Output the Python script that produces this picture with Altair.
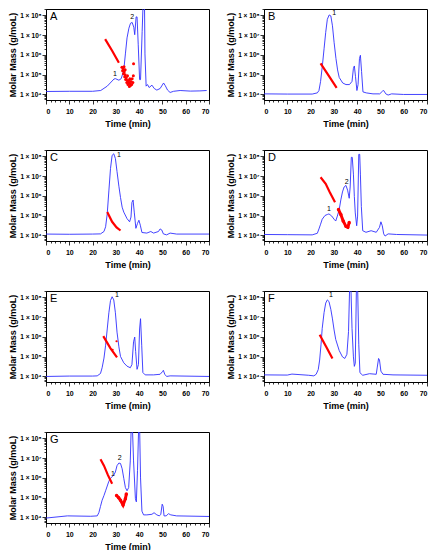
import altair as alt
import pandas as pd

# ---------------- data (times in min, values as log10 of the axis value) ----------------
A_t = [0, 10, 20, 23.5, 26.3, 29.2, 29.8, 31.3, 32.3, 33.4, 34.1, 34.8, 35.6, 36.3, 37.0, 37.7, 38.1, 38.7, 39.1, 39.6, 40.2, 40.6, 41.3, 41.7, 42.3, 42.5, 43.0, 43.6, 44.3, 45.5, 46.5, 47.6, 49.0, 50.5, 51.2, 52.2, 53.3, 54.8, 57.6, 62, 66.1, 69]
A_v = [4.15, 4.16, 4.16, 4.2, 4.42, 4.78, 4.8, 4.72, 4.8, 5.23, 6.05, 6.86, 7.35, 7.6, 7.64, 7.4, 7.02, 7.92, 7.92, 6.54, 4.75, 4.75, 7.19, 8.6, 8.6, 6.05, 4.42, 4.5, 4.35, 4.47, 4.3, 4.22, 4.3, 4.58, 4.45, 4.22, 4.1, 4.16, 4.2, 4.17, 4.18, 4.2]
A_red_t = [25.4, 28.4, 31.3]
A_red_v = [6.8, 6.21, 5.6]
A_odd_t = [32.6, 32.9, 33.1, 33.3, 33.6, 33.8, 34.0, 34.2, 34.5, 34.7, 35.0, 35.2, 35.5, 35.8, 36.0, 36.3, 36.5, 36.8, 37.0, 37.3, 37.5, 35.0, 34.0, 36.0, 33.5, 35.6, 37.6]
A_odd_v = [5.38, 5.2, 5.3, 5.05, 5.15, 4.9, 5.0, 4.75, 4.85, 4.6, 4.7, 4.5, 4.6, 4.4, 4.55, 4.45, 4.65, 4.5, 4.8, 4.6, 4.95, 4.95, 5.25, 4.8, 5.4, 4.7, 5.55]
A_lab = [("1", 29.6, 5.05), ("2", 37.0, 7.9)]

B_t = [0, 10, 20.7, 22.9, 23.6, 24.3, 25.1, 25.8, 26.5, 27.2, 28.0, 28.7, 29.4, 30.1, 30.9, 31.6, 32.3, 33.8, 35.2, 36.7, 37.8, 38.4, 38.8, 39.3, 39.9, 40.4, 41.0, 41.4, 41.9, 42.5, 43.9, 46.8, 49.7, 50.9, 51.4, 52.3, 53.3, 54.8, 59.9, 70]
B_v = [4.03, 4.02, 4.02, 4.08, 4.2, 4.66, 5.49, 6.31, 7.14, 7.8, 8.02, 7.97, 7.47, 6.64, 5.82, 5.24, 4.86, 4.58, 4.5, 4.5, 4.66, 5.32, 5.44, 4.9, 4.2, 4.5, 5.82, 5.98, 5.16, 4.13, 4.08, 4.03, 4.03, 4.17, 4.2, 4.03, 3.97, 4.03, 4.0, 4.0]
B_red_t = [24.3, 27.7, 31.2]
B_red_v = [5.57, 4.96, 4.33]
B_lab = [("1", 30.1, 8.13)]

C_t = [0, 10, 20, 23.4, 24.9, 25.6, 26.3, 27.0, 27.7, 28.4, 29.1, 29.8, 30.5, 31.3, 32.0, 32.7, 33.4, 34.8, 35.9, 36.5, 36.9, 37.4, 37.9, 38.6, 39.3, 39.9, 40.5, 41.2, 43.3, 45.0, 46.2, 48.3, 49.0, 49.7, 50.4, 51.8, 53.3, 56.1, 70]
C_v = [4.07, 4.06, 4.07, 4.08, 4.2, 4.44, 5.1, 6.25, 7.39, 8.05, 8.13, 7.89, 7.23, 6.49, 5.92, 5.43, 5.18, 4.85, 4.69, 4.93, 5.67, 5.79, 5.18, 4.36, 4.61, 4.77, 4.52, 4.15, 4.12, 4.2, 4.12, 4.2, 4.33, 4.28, 4.08, 4.03, 4.12, 4.07, 4.07]
C_red_t = [26.3, 28.4, 30.3, 32.0]
C_red_v = [5.18, 4.69, 4.41, 4.25]
C_lab = [("1", 31.3, 8.08)]

D_t = [0, 10, 20.7, 22.9, 23.6, 24.3, 25.0, 26.2, 27.2, 27.9, 29.1, 30.1, 30.8, 31.5, 32.3, 33.0, 33.7, 34.4, 35.2, 35.9, 36.6, 37.0, 37.5, 37.9, 38.4, 38.8, 39.2, 39.8, 40.2, 40.7, 41.1, 41.4, 41.8, 42.4, 43.8, 46.0, 48.2, 49.6, 50.2, 50.8, 51.4, 52.0, 53.3, 56.9, 70]
D_v = [4.05, 4.04, 4.03, 4.11, 4.33, 4.57, 4.82, 5.01, 5.06, 5.09, 4.98, 4.82, 4.73, 4.98, 5.31, 5.8, 6.2, 6.45, 6.53, 6.29, 5.88, 6.45, 7.95, 7.95, 7.1, 5.96, 5.14, 4.49, 4.98, 8.1, 8.1, 7.1, 5.47, 4.24, 4.16, 4.24, 4.16, 4.41, 4.69, 4.49, 4.08, 3.97, 4.08, 4.05, 4.02]
D_red_t = [24.3, 26.5, 28.2, 30.5]
D_red_v = [6.94, 6.61, 6.2, 5.68]
D_dot_t = [32.0, 33.0, 34.0, 35.2, 36.0, 36.6]
D_dot_v = [5.31, 5.06, 4.73, 4.46, 4.42, 4.65]
D_lab = [("1", 27.9, 5.34), ("2", 35.5, 6.68)]

E_t = [0, 10, 20, 22.0, 23.4, 24.1, 24.9, 25.6, 26.3, 27.0, 27.7, 28.4, 29.1, 29.8, 30.5, 31.3, 32.0, 33.4, 34.8, 36.2, 36.9, 37.6, 38.1, 38.5, 39.1, 39.7, 40.2, 40.6, 41.1, 41.6, 42.6, 46.2, 49.0, 50.0, 50.4, 51.0, 51.8, 53.3, 70]
E_v = [4.0, 4.02, 4.02, 4.03, 4.15, 4.44, 4.93, 5.58, 6.4, 7.22, 7.84, 8.03, 7.87, 7.22, 6.24, 5.5, 5.01, 4.69, 4.52, 4.44, 4.6, 5.75, 5.99, 5.26, 4.36, 4.6, 6.4, 6.92, 5.58, 4.2, 4.08, 4.08, 4.11, 4.24, 4.31, 4.11, 4.0, 4.03, 4.0]
E_red_t = [24.6, 27.7, 30.5]
E_red_v = [6.04, 5.42, 4.96]
E_odd_t = [30.3, 28.6]
E_odd_v = [5.78, 5.35]
E_lab = [("1", 30.5, 8.11)]

F_t = [0, 10, 12, 19.2, 21.4, 22.4, 23.3, 23.9, 24.5, 25.0, 25.8, 26.5, 27.2, 27.9, 28.7, 29.4, 30.1, 30.8, 32.3, 33.7, 34.7, 35.6, 36.3, 36.8, 37.3, 37.8, 38.4, 38.8, 39.2, 39.7, 40.2, 40.7, 41.2, 42.4, 45.3, 48.2, 48.6, 49.2, 49.6, 50.2, 51.1, 55.4, 70]
F_v = [4.08, 4.07, 4.12, 4.06, 4.03, 4.11, 4.35, 4.83, 5.63, 6.43, 7.23, 7.71, 7.87, 7.79, 7.39, 6.91, 6.35, 5.87, 5.31, 4.99, 4.91, 5.12, 6.27, 8.6, 8.6, 6.43, 4.99, 4.51, 4.67, 8.6, 8.6, 5.63, 4.19, 4.06, 4.14, 4.11, 4.43, 4.91, 4.83, 4.27, 4.11, 4.08, 4.06]
F_red_t = [23.9, 26.7, 29.4]
F_red_v = [6.11, 5.5, 4.91]
F_lab = [("1", 28.7, 8.11)]

G_t = [0, 9.2, 19.2, 22.0, 22.7, 23.4, 24.1, 24.9, 25.6, 26.3, 27.0, 27.7, 28.4, 29.1, 29.8, 30.5, 31.3, 32.0, 32.7, 33.4, 34.1, 34.8, 35.5, 36.2, 36.6, 37.1, 37.6, 38.4, 38.8, 39.3, 39.8, 40.2, 40.6, 41.2, 41.9, 43.3, 45.5, 46.4, 47.6, 48.7, 49.3, 49.9, 50.3, 50.7, 51.6, 52.6, 53.6, 56.1, 70]
G_v = [3.97, 4.08, 4.06, 4.08, 4.24, 4.56, 4.87, 5.11, 5.35, 5.59, 5.83, 5.98, 6.06, 6.14, 6.3, 6.62, 6.75, 6.73, 6.46, 5.98, 5.51, 5.35, 5.51, 6.86, 8.6, 8.6, 6.86, 4.95, 4.79, 6.38, 8.6, 8.6, 6.0, 4.32, 4.13, 4.13, 4.16, 4.24, 4.13, 4.08, 4.16, 4.67, 4.56, 4.08, 4.08, 4.19, 4.13, 4.08, 4.05]
G_red_t = [23.4, 24.9, 26.6, 28.4]
G_red_v = [6.94, 6.62, 6.14, 5.7]
G_dot_t = [30.3, 31.2, 32.0, 33.1, 34.1, 34.5]
G_dot_v = [5.11, 5.0, 4.87, 4.63, 4.95, 5.19]
G_lab = [("1", 28.8, 6.22), ("2", 31.7, 7.02)]

X_TICKS = list(range(0, 71, 2))
Y_DECADES = [4, 5, 6, 7, 8]
Y_TICKS = [k * 10 ** e for e in range(3, 9) for k in range(1, 10) if 10 ** 3.72 <= k * 10 ** e <= 10 ** 8.32]
SUP = {4: "⁴", 5: "⁵", 6: "⁶", 7: "⁷", 8: "⁸"}

BLUE = "#2f2fff"
RED = "#ff0000"
FONT = "Liberation Sans"
W, H = 163, 91

ylabel_expr = "".join(f"datum.value == {10 ** e} ? '1 × 10{SUP[e]}' : " for e in Y_DECADES) + "''"
decade_test = " || ".join(f"datum.value == {10 ** e}" for e in Y_DECADES)

xscale = alt.Scale(domain=[0, 70], nice=False, zero=False)
yscale = alt.Scale(type="log", domain=[10 ** 3.72, 10 ** 8.32], nice=False)
xaxis = alt.Axis(values=X_TICKS, title="Time (min)",
                 labelExpr="datum.value % 10 == 0 ? datum.label : ''",
                 tickSize={"condition": {"test": "datum.value % 10 == 0", "value": 4}, "value": 2},
                 labelPadding=3, titlePadding=5, grid=False)
yaxis = alt.Axis(values=Y_TICKS, title="Molar Mass (g/moL)", labelExpr=ylabel_expr,
                 tickSize={"condition": {"test": decade_test, "value": 4}, "value": 2},
                 grid=False)


def enc(df_chart):
    return df_chart.encode(
        x=alt.X("t:Q", scale=xscale, axis=xaxis),
        y=alt.Y("m:Q", scale=yscale, axis=yaxis),
    )


def frame(t, v):
    return pd.DataFrame({"t": t, "m": [10 ** x for x in v], "i": list(range(len(t)))})


def panel(letter, bt, bv, rt, rv, dt=None, dv=None, ot=None, ov=None, labels=(), dot_size=5):
    layers = []
    layers.append(enc(alt.Chart(frame(bt, bv)).mark_line(color=BLUE, strokeWidth=0.9, clip=True)))
    layers.append(enc(alt.Chart(frame(rt, rv)).mark_line(color=RED, strokeWidth=2.2, clip=True)))
    if dt:
        cloud = frame(dt, dv)
        layers.append(enc(alt.Chart(cloud).mark_line(color=RED, strokeWidth=3.0, clip=True)).encode(order="i:Q"))
        layers.append(enc(alt.Chart(cloud).mark_circle(color=RED, size=12, opacity=1, clip=True)))
    if ot:
        layers.append(enc(alt.Chart(frame(ot, ov)).mark_circle(color=RED, size=dot_size, opacity=1, clip=True)))
    if labels:
        lab = pd.DataFrame({"s": [a for a, _, _ in labels], "t": [b for _, b, _ in labels],
                            "m": [10 ** c for _, _, c in labels]})
        layers.append(enc(alt.Chart(lab).mark_text(font=FONT, fontSize=7, color="#000000", baseline="middle"))
                      .encode(text="s:N"))
    let = pd.DataFrame({"L": [letter]})
    layers.append(alt.Chart(let).mark_text(font=FONT, fontSize=11, align="left", baseline="top", color="#000000")
                  .encode(text="L:N", x=alt.value(4), y=alt.value(2)))
    return alt.layer(*layers).properties(width=W, height=H)


pA = panel("A", A_t, A_v, A_red_t, A_red_v, ot=A_odd_t, ov=A_odd_v, labels=A_lab, dot_size=9)
pB = panel("B", B_t, B_v, B_red_t, B_red_v, labels=B_lab)
pC = panel("C", C_t, C_v, C_red_t, C_red_v, labels=C_lab)
pD = panel("D", D_t, D_v, D_red_t, D_red_v, D_dot_t, D_dot_v, labels=D_lab)
pE = panel("E", E_t, E_v, E_red_t, E_red_v, ot=E_odd_t, ov=E_odd_v, labels=E_lab)
pF = panel("F", F_t, F_v, F_red_t, F_red_v, labels=F_lab)
pG = panel("G", G_t, G_v, G_red_t, G_red_v, G_dot_t, G_dot_v, labels=G_lab)

chart = alt.vconcat(
    alt.hconcat(pA, pB, spacing=16),
    alt.hconcat(pC, pD, spacing=16),
    alt.hconcat(pE, pF, spacing=16),
    alt.hconcat(pG, spacing=16),
    spacing=20,
).properties(
    padding={"left": 0, "top": 0, "right": 0, "bottom": 0}
).configure_view(
    stroke="#000000", strokeWidth=1
).configure_axis(
    domainColor="#000000", tickColor="#000000", labelColor="#000000", titleColor="#000000",
    labelFont=FONT, titleFont=FONT, labelFontSize=6.5, titleFontSize=9,
    labelFontWeight="bold", titleFontWeight="bold", labelPadding=1, titlePadding=2,
    domainWidth=1, tickWidth=0.8,
).configure_axisX(
    labelFontSize=7
)

chart.save("out.html", embed_options={"renderer": "svg", "actions": False})
